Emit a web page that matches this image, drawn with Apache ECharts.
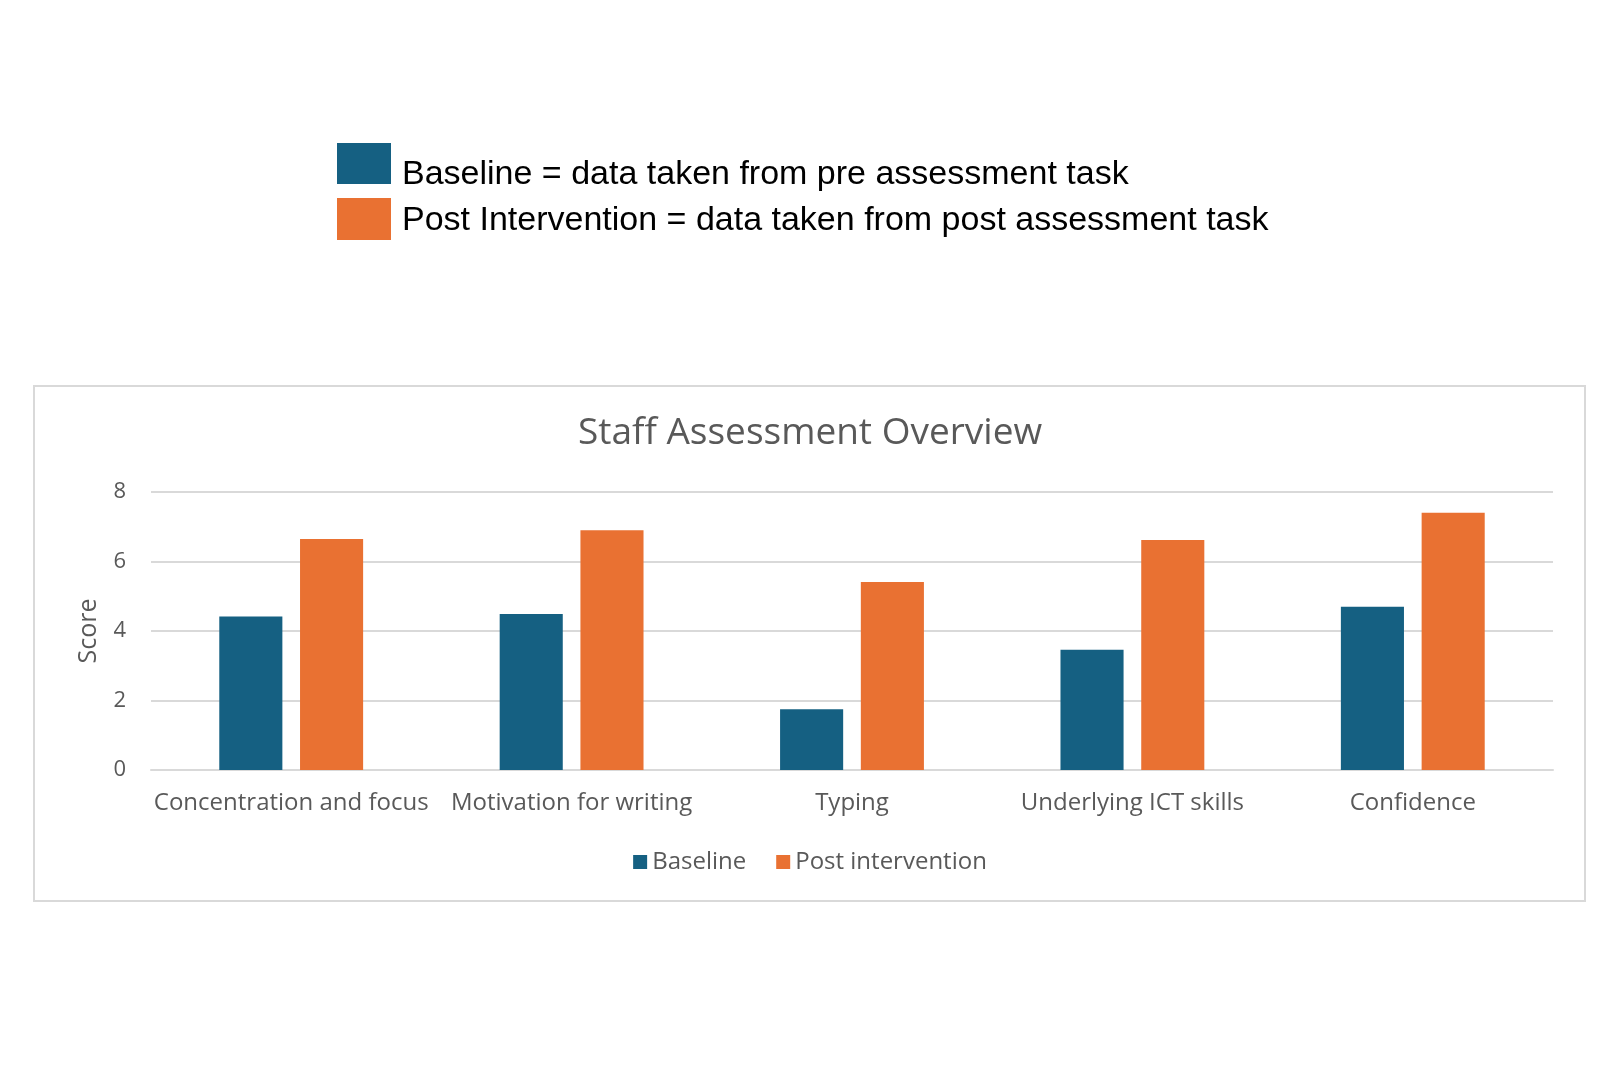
<!DOCTYPE html>
<html>
<head>
<meta charset="utf-8">
<script src="https://cdn.jsdelivr.net/npm/echarts@6/dist/echarts.min.js"></script>
<style>
  html, body { margin: 0; padding: 0; background: #fff; }
  #chart { width: 1620px; height: 1080px; }
</style>
</head>
<body>
<div id="chart"></div>
<script>
// data
const categories = ['Concentration and focus', 'Motivation for writing', 'Typing', 'Underlying ICT skills', 'Confidence'];
const baseline = [4.42, 4.49, 1.75, 3.46, 4.70];
const postIntervention = [6.65, 6.90, 5.41, 6.62, 7.40];
const yTicks = [0, 2, 4, 6, 8];

const BLUE = '#156082';
const ORANGE = '#E97132';
const GREY_TEXT = '#595959';
const GRID_GREY = '#d9d9d9';
const FONT = '"Open Sans", "Noto Sans", sans-serif';

const chart = echarts.init(document.getElementById('chart'));

chart.setOption({
  backgroundColor: '#fff',
  animation: false,
  title: {
    text: 'Staff Assessment Overview',
    left: 'center',
    top: 410,
    textStyle: {
      fontFamily: FONT,
      fontSize: 37,
      fontWeight: 'normal',
      color: GREY_TEXT
    }
  },
  legend: {
    data: ['Baseline', 'Post intervention'],
    left: 'center',
    top: 845,
    icon: 'rect',
    itemWidth: 14,
    itemHeight: 14,
    itemGap: 30,
    textStyle: {
      fontFamily: FONT,
      fontSize: 24,
      color: GREY_TEXT
    }
  },
  grid: {
    left: 151,
    right: 67,
    top: 492,
    bottom: 310
  },
  xAxis: {
    type: 'category',
    data: categories,
    axisTick: { show: false },
    axisLine: { lineStyle: { color: GRID_GREY, width: 2 } },
    axisLabel: {
      interval: 0,
      margin: 21,
      fontFamily: FONT,
      fontSize: 24,
      color: GREY_TEXT
    }
  },
  yAxis: {
    type: 'value',
    min: yTicks[0],
    max: yTicks[yTicks.length - 1],
    interval: 2,
    name: 'Score',
    nameLocation: 'middle',
    nameRotate: 90,
    nameGap: 50,
    nameTextStyle: {
      fontFamily: FONT,
      fontSize: 25,
      color: GREY_TEXT
    },
    axisLine: { show: false },
    axisTick: { show: false },
    axisLabel: {
      margin: 25,
      fontFamily: FONT,
      fontSize: 22,
      color: GREY_TEXT
    },
    splitLine: { lineStyle: { color: GRID_GREY, width: 2 } }
  },
  series: [
    {
      name: 'Baseline',
      type: 'bar',
      data: baseline,
      barWidth: '22.5%',
      barGap: '28%',
      itemStyle: { color: BLUE }
    },
    {
      name: 'Post intervention',
      type: 'bar',
      data: postIntervention,
      barWidth: '22.5%',
      itemStyle: { color: ORANGE }
    }
  ],
  graphic: [
    // chart frame
    {
      type: 'rect',
      silent: true,
      z: -1,
      shape: { x: 34, y: 386, width: 1551, height: 515 },
      style: { fill: 'none', stroke: GRID_GREY, lineWidth: 2 }
    },
    // key above the chart
    {
      type: 'rect',
      shape: { x: 337, y: 143, width: 54, height: 41 },
      style: { fill: BLUE }
    },
    {
      type: 'rect',
      shape: { x: 337, y: 198, width: 54, height: 42 },
      style: { fill: ORANGE }
    },
    {
      type: 'text',
      x: 402,
      y: 175,
      style: {
        text: 'Baseline = data taken from pre assessment task',
        fontFamily: '"Liberation Sans", Arial, sans-serif',
        fontSize: 34,
        fill: '#000',
        verticalAlign: 'middle'
      }
    },
    {
      type: 'text',
      x: 402,
      y: 221,
      style: {
        text: 'Post Intervention = data taken from post assessment task',
        fontFamily: '"Liberation Sans", Arial, sans-serif',
        fontSize: 34,
        fill: '#000',
        verticalAlign: 'middle'
      }
    }
  ]
});
</script>
</body>
</html>
